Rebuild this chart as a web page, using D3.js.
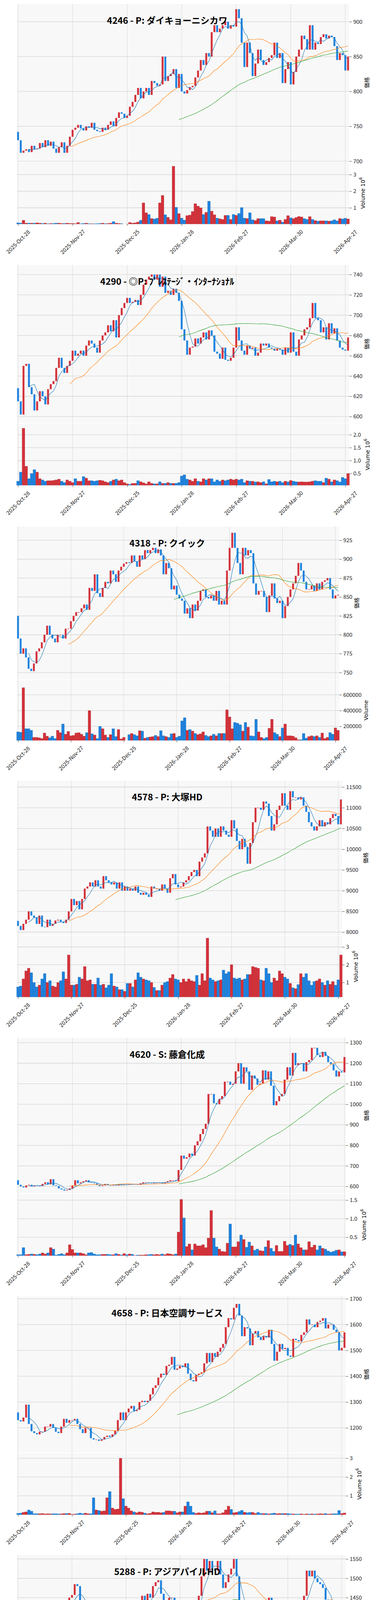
<!DOCTYPE html>
<html><head><meta charset="utf-8">
<script src="https://cdn.jsdelivr.net/npm/d3@7/dist/d3.min.js"></script>
<style>body{margin:0;background:#fff}svg{display:block}</style>
</head><body>
<svg id="c" width="960" height="6618"></svg>
<script>
// ---------- data ----------
const titles = ["4246 - P: ダイキョーニシカワ","4290 - ◎P: ﾌﾟﾚｽﾃｰｼﾞ・ｲﾝﾀｰﾅｼｮﾅﾙ","4318 - P: クイック","4578 - P: 大塚HD","4620 - S: 藤倉化成","4658 - P: 日本空調サービス","5288 - P: アジアパイルHD","5334 - P: 日本特殊陶業","5563 - P: 新日本電工","5590 - ◎G: ネットスターズ"];
const dateTickIndex = [0,20,40,60,80,100,120];
const dateTickLabels = ["2025-Oct-28","2025-Nov-27","2025-Dec-25","2026-Jan-28","2026-Feb-27","2026-Mar-30","2026-Apr-27"];
const firstOpens = [742,628,825,8270,630,1260,1238,6300,348,1295];

const closes4246 = [730,712,715,717,713,722,717,718,726,720, 730,722,728,718,712,720,727,712,722,735, 745,748,752,747,744,750,748,755,745,743, 742,748,745,752,757,750,762,770,768,762, 765,778,785,795,805,790,800,805,795,815, 812,808,810,850,815,822,825,832,805,825, 800,797,802,806,808,820,830,845,838,855, 850,885,895,885,890,895,900,890,895,893, 918,905,870,835,870,855,822,840,860,845, 838,842,848,852,870,848,855,812,832,842, 810,828,850,860,880,875,860,895,860,870, 868,878,882,876,880,878,865,845,855,852,830,850];
const volumes4246 = [.1,.08,.25,.08,.08,.08,.08,.1,.08,.06,.08,.04,.06,.06,.08,.08,.06,.06,.08,.06, .06,.05,.12,.04,.06,.08,.05,.04,.04,.05,.06,.08,.05,.06,.08,.17,.08,.06,.05,.02, .03,.12,.08,.1,.15,.25,1.3,.7,.6,.35,.33,.37,1.3,1.75,.58,.43,.28,3.5,1.03,.65, .38,.26,.53,.56,.78,1.25,1.1,1.0,.6,.73,1.4,.8,.58,.38,.34,.3,.55,.55,.3,.6, .55,.66,1.02,.38,.36,.7,.28,.24,.35,.35,.35,.22,.2,.47,.45,.22,.26,.14,.3,.53, .4,.35,.42,.48,.45,.35,.3,.47,.3,.23,.2,.22,.22,.22,.2,.22,.28,.22,.36,.33,.37,.33];

const closes4290 = [615,602,650,652,629,622,606,615,625,620, 612,627,632,635,648,658,648,643,650,655, 665,660,662,665,660,670,675,672,668,663, 675,680,683,690,684,695,678,700,707,712, 717,712,713,715,710,720,730,735,738,740, 735,740,728,738,722,724,720,726,722,714, 686,675,661,668,669,677,672,678,683,676, 685,680,664,662,657,668,656,655,658,668, 688,675,665,661,670,667,668,660,663,672, 670,672,668,667,665,667,666,661,668,663, 683,664,660,676,680,686,688,697,712,697, 695,683,688,676,692,682,687,675,668,666,665,678];
const volumes4290 = [.2,.55,2.25,.78,.3,.5,.65,.55,.3,.25, .2,.22,.22,.23,.25,.28,.2,.15,.25,.2, .15,.3,.2,.2,.38,.32,.22,.22,.2,.22, .24,.22,.18,.15,.2,.25,.28,.22,.25,.15, .1,.08,.12,.12,.22,.18,.14,.1,.18,.12, .1,.1,.18,.12,.12,.15,.12,.12,.12,.15, .4,.45,.28,.25,.2,.3,.2,.18,.3,.25, .3,.3,.18,.25,.2,.25,.22,.25,.28,.25, .28,.25,.28,.15,.22,.2,.2,.17,.18,.15, .18,.1,.27,.18,.2,.18,.2,.15,.2,.18, .23,.2,.18,.17,.18,.17,.17,.18,.2,.22, .2,.2,.15,.32,.28,.18,.25,.22,.17,.35,.3,.5];

const closes4318 = [795,775,782,770,755,752,762,778,782,790, 800,812,800,795,790,800,800,795,808,808, 818,825,830,830,835,840,833,862,858,880, 855,850,862,870,868,885,880,870,885,890, 894,896,895,905,897,890,905,900,912,908, 912,915,908,913,905,880,895,888,860,865, 853,848,845,828,835,822,840,832,845,858, 860,850,848,852,845,858,840,845,840,885, 915,935,915,895,880,915,905,912,908,868, 853,858,858,850,830,852,868,848,842,845, 822,838,850,860,868,878,895,885,870,860, 860,865,858,868,860,870,872,875,860,848,852,853];
const volumes4318 = [130000,125000,690000,170000,170000,150000,60000,60000,55000,45000, 115000,75000,55000,75000,45000,150000,120000,230000,100000,135000, 80000,85000,115000,120000,100000,75000,120000,400000,105000,90000, 45000,200000,170000,90000,60000,95000,170000,70000,160000,40000, 60000,18000,95000,110000,95000,80000,145000,140000,50000,60000, 65000,70000,85000,70000,145000,80000,70000,60000,105000,110000, 60000,75000,270000,310000,150000,160000,140000,110000,95000,105000, 130000,85000,70000,80000,100000,80000,110000,110000,110000,410000, 320000,170000,250000,240000,220000,140000,250000,190000,80000,75000, 290000,130000,60000,45000,60000,175000,290000,120000,100000,70000, 180000,230000,80000,80000,75000,55000,30000,30000,110000,50000, 70000,80000,70000,80000,60000,115000,45000,60000,120000,100000,180000,150000];

const closes4578 = [8150,8050,8200,8300,8500,8400,8350,8200,8400,8130, 8120,8300,8150,8200,8280,8300,8250,8220,8300,8500, 8800,8650,8750,8550,8800,9050,9100,9200,9100,9250, 9100,9050,9350,9250,9200,9150,9200,9050,9200,9000, 9100,9000,9050,9000,9100,8950,8900,8950,8900,8850, 9100,9050,9050,9000,9150,9050,8950,9300,9400,9150, 9080,9100,9200,9250,9350,9450,9500,9350,9700,9800, 9900,10550,10450,10300,10500,10300,10550,10450,10350,10300, 10700,10500,10200,10000,10250,10050,9650,10150,10650,11000, 11000,10950,11150,11100,10800,10450,10600,10950,11050,11350, 11050,10950,11400,11250,11250,11200,11250,11050,10900,10650, 10550,10450,10550,10700,10550,10650,10600,10750,10850,10800,10600,11200];
const volumes4578 = [.75,.8,1.2,1.65,1.8,1.55,1.0,.75,.85,1.2,1.5,1.0,1.1,.8,.75,1.0,1.1,1.6,1.2,2.55, .85,.85,.9,1.3,1.2,1.9,1.1,1.15,.9,.9,1.25,.85,.9,.7,.85,1.5,.8,.75,.6,.6, .5,.95,.95,.75,1.15,1.55,1.3,1.2,1.15,1.1,1.0,.72,.55,.55,.85,1.0,1.05,1.25,1.45,1.2, 1.15,1.0,1.2,1.05,1.2,1.1,1.05,1.4,.85,1.5,1.1,3.5,1.25,1.15,1.05,1.1,1.15,1.7,1.5,1.6, 2.0,1.25,1.2,1.25,1.15,1.2,1.45,1.45,1.9,1.85,1.8,1.15,1.1,1.8,1.5,1.0,1.25,1.1,1.65,1.5, 1.3,1.2,.95,.7,.65,.88,1.5,1.3,1.5,1.1,.85,1.05,1.1,1.2,1.0,.85,1.1,.9,1.05,.85,1.15,2.55];

const closes4620 = [608,600,595,605,608,600,605,603,602,612, 620,610,635,605,602,590,585,580,583,590, 605,630,615,620,625,630,620,618,615,607, 602,605,612,608,605,607,605,610,607,610, 608,612,610,612,608,615,620,620,618,615, 618,618,620,615,620,625,630,630,625, 680,750,735,742,760,750,800,820,855,880,905, 1050,1050,1005,1000,1025,1040,1110,1110,1095,1100, 1160,1200,1100,1180,1160,1070,1140,1125,1095,1100, 1165,1120,1160,1090,995,1015,1040,1050,1120,1180, 1140,1250,1190,1200,1200,1160,1205,1215,1275,1275, 1240,1230,1255,1235,1205,1195,1165,1135,1160,1155,1230];
const volumes4620 = [.03,.03,.22,.03,.04,.05,.04,.03,.05,.08,.05,.08,.22,.18,.02,.04,.06,.03,.08,.3, .17,.08,.08,.08,.06,.03,.08,.09,.05,.03,.03,.04,.04,.04,.03,.03,.06,.04,.02,.06, .03,.05,.04,.01,.02,.02,.02,.03,.03,.04,.03,.04,.03,.05,.03,.06,.05,.03,.05,.64, 1.52,1.02,.25,.32,.16,.32,.27,.27,.3,.22,.48,1.22,.48,.24,.18,.12,.11,.34,.86,.24, .24,.38,.56,.44,.23,.37,.27,.15,.18,.14,.13,.24,.41,.2,.12,.28,.12,.12,.39,.28, .31,.28,.56,.32,.22,.16,.16,.38,.23,.29,.16,.27,.2,.18,.13,.1,.12,.15,.16,.11,.11,.27];

const closes4658 = [1230,1225,1240,1290,1215,1187,1180,1175,1185,1185, 1205,1205,1215,1200,1185,1180,1205,1235,1220,1230, 1230,1235,1215,1195,1180,1200,1200,1160,1155,1155, 1150,1155,1165,1170,1165,1175,1190,1230,1260,1230, 1260,1275,1285,1265,1270,1300,1305,1300,1305,1330, 1355,1365,1395,1410,1405,1440,1445,1475,1425,1430, 1440,1435,1450,1410,1385,1380,1405,1410,1415,1450, 1490,1455,1490,1475,1495,1510,1525,1590,1625,1620, 1665,1680,1635,1555,1590,1585,1520,1565,1575,1550, 1540,1555,1550,1580,1525,1460,1495,1525,1505,1510, 1480,1475,1545,1540,1535,1560,1570,1620,1600,1600, 1590,1610,1615,1625,1585,1600,1600,1580,1570,1500,1510,1570];
const volumes4658 = [.07,.08,.12,.15,.25,.18,.05,.05,.05,.06,.04,.05,.04,.05,.05,.04,.04,.06,.06,.07, .02,.03,.05,.08,.05,.08,.05,.05,.9,.25,.22,.18,.2,.9,1.23,.35,.28,.3,3.0,.85, .45,.35,.2,.15,.1,.15,.13,.08,.05,.07,.15,.12,.13,.1,.12,.2,.2,.18,.18,.1, .15,.15,.45,.68,.45,.12,.07,.1,.08,.1,.18,.18,.1,.2,.05,.05,.1,.25,.45,.28, .1,.12,.17,.23,.13,.1,.12,.12,.06,.12,.06,.06,.06,.04,.06,.08,.05,.06,.06,.06, .06,.04,.04,.03,.03,.04,.02,.04,.03,.04,.03,.04,.05,.04,.06,.03,.04,.05,.05,.22,.06,.09];

const closes5288 = [1190,1178,1195,1193,1205,1195,1220,1215,1215,1205, 1360,1335,1320,1350,1325,1340,1410,1430,1400,1450, 1457,1485,1480,1430,1418,1400,1418,1435,1430,1410, 1400,1415,1420,1390,1385,1400,1415,1405,1410,1400, 1405,1395,1410,1385,1395,1425,1455,1410,1460,1450, 1480,1490,1495,1460,1440,1425,1450,1450,1420,1405, 1405,1380,1385,1370,1385,1435,1440,1455,1505,1550, 1520,1545,1525,1520,1545,1510,1475,1490,1510,1525, 1550,1505,1425,1345,1390,1415,1365,1400,1395,1370, 1375,1385,1400,1450,1400,1350,1380,1410,1400,1405, 1380,1380,1430,1410,1405,1420,1455,1520,1505,1520, 1500,1490,1485,1475,1445,1440,1425,1380,1365,1360,1365,1420];
const volumes5288 = [.1,.08,.3,.09,.1,.17,.12,.06,.2,.42,1.4,.33,.22,.21,.22,.21,.39,.32,.22,.18, .1,.21,.15,.45,.08,.11,.13,.1,.13,.18,.14,.11,.16,.3,.19,.09,.18,.13,.12,.11, .08,.2,.14,.17,.2,.22,.19,.23,.15,.12,.13,.2,.13,.12,.09,.17,.17,.17,.19,.15, .14,.18,.1,.23,.24,.16,.24,.55,.75,.41,.14,.11,.11,.15,.19,.31,.22,.11,.13,.2, .33,.38,.21,.29,.25,.12,.13,.16,.15,.13,.15,.19,.13,.2,.2,.19,.12,.18,.22,.19, .2,.22,.14,.12,.03,.08,.2,.12,.15,.1,.11,.1,.08,.08,.06,.1,.15,.16,.16,.1,.09,.12];

const closes5334 = [6250,6250,6260,6300,6580,6500,6570,6520,6420,6480, 6520,6620,6510,6520,6420,6350,6420,6480,6570,6590, 6630,6650,6520,6560,6580,6600,6430,6560,6630,6690, 6620,6700,6700,6580,6640,6600,6720,6840,6820,6750, 6780,6770,6790,6850,6850,6870,6960,6800,6620,6750, 6800,6820,6830,6960,6960,6960,7010,7030,6890,6920, 6880,6640,6660,6380,6540,6470,6460,6520,6650,6660, 6650,7010,7060,7300,7620,7930,7680,7720,7770,7740, 7800,7750,7500,7270,7360,7350,7300,7600,7800,7600, 7650,7440,7460,7600,7170,6970,7340,7690,7600,7620, 7320,7220,7510,7480,7510,7520,7500,7900,8000,8250, 8150,8470,8200,8280,8350,8420,8760,8550,8400,8350,8220,8560];
const volumes5334 = [.52,.4,.57,.62,1.3,.84,.83,.75,.9,.57,.82,.58,.68,.57,.63,.53,.55,.67,.57,.62, .5,.53,.55,.47,.77,.67,.8,.62,.66,.79,.49,.62,.56,.62,.73,.66,1.03,.66,.71,.52, .3,.48,.42,.35,.47,.6,.73,.9,1.3,1.25,.94,.77,.86,1.03,.7,.55,.72,.7,1.1,.8, .88,1.03,.8,1.57,1.12,.85,.79,.76,.78,.87,.68,1.77,1.35,1.42,1.45,2.07,1.1,.99,.88,1.0, .92,.88,.72,.86,.79,.63,.97,1.3,1.05,.67,.73,.74,.51,.63,1.1,.88,1.06,.87,.7,.64, .71,.57,.55,.71,.33,.33,.43,1.34,.76,.92,.97,1.56,1.06,.81,.92,.78,1.06,1.05,1.05,.5,.56,.87];

const closes5563 = [335,333,335,330,327,322,298,305,314,315, 322,320,322,322,316,319,322,324,318,322, 323,328,330,324,326,328,327,326,320,324, 318,325,327,320,322,322,322,333,334,337, 339,343,362,358,350,356,372,366,366,380, 388,392,387,386,388,382,380,384,386,390, 386,381,384,378,387,404,406,398,404,408, 407,408,425,416,428,420,426,443,443,447, 470,459,443,412,440,423,401,424,431,418, 413,433,437,456,430,400,418,426,423,421, 408,411,427,420,429,437,440,451,443,440, 436,444,445,450,441,448,444,428,425,423,422,436];
const volumes5563 = [.5,.38,.5,.38,.52,.55,1.45,.6,.6,.38,.45,.18,.22,.23,.4,.37,.35,.35,.52,.2, .17,.3,.38,.28,.27,.3,.18,.44,.5,.3,.26,.37,.32,.44,.2,.18,.37,.9,.4,.34, .44,.4,.78,.57,.65,.4,1.18,.6,.45,1.37,1.56,.75,.74,.55,.86,.72,.67,.47,2.27,.86, .83,.69,.93,.76,.9,1.26,1.4,.68,.75,.62,1.96,1.45,1.43,1.68,.74,.64,1.14,1.63,1.58,1.0, 1.27,1.18,1.33,1.91,1.4,.68,1.36,1.4,.89,.69,.58,1.84,1.38,1.42,1.7,1.64,.99,.49,.55,.88, .98,.55,.6,.66,.45,1.06,.69,.97,.72,.64,.46,.61,.78,.49,.49,.53,.5,.65,.71,.47,.67,.74];

const closes5590 = [1240,1240,1230,1265,1245,1235,1250,1265,1285,1295, 1245,1160,1165,1030,1010,950,960,905,915,945, 900,980,920,910,900,935,920,910,912,905, 895,905,905,810,840,860,900,915,970,930, 1000,1045,1055,1010,975,995,990,995,1000,1005, 980,1020,1000,990,975,945,945,935,850,870, 860,860,895,870,850,850,850,825,855,895, 845,830,780,795,820,860,790,785,790,810, 830,790,790,770,800,820,795,805,790,780, 795,790,785,770,760,720,745,760,735,780, 760,770,810,800,795,805,815,860,805,810, 820,825,850,845,880,870,855,835,810,815,820,855];
const volumes5590 = [130,156,143,132,132,146,120,150,131,166, 231,183,193,263,223,223,235,252,218,192, 175,235,164,141,137,266,129,143,156,161, 177,162,171,384,179,179,206,164,192,238, 210,220,217,197,156,141,139,118,114,145, 151,141,122,120,122,134,126,118,213,157, 145,168,177,182,189,161,153,151,203,241, 298,295,316,181,161,187,174,147,164,179, 149,213,172,158,179,161,158,141,151,149, 172,183,340,168,149,166,181,208,167,181, 193,162,171,156,175,131,183,165,189,185, 186,156,156,214,263,262,263,262,262,263,262,262].map(v=>v*1000);

const priceTicks = [[700,750,800,850,900],[600,620,640,660,680,700,720,740],[750,775,800,825,850,875,900,925],[8000,8500,9000,9500,10000,10500,11000,11500],[600,700,800,900,1000,1100,1200,1300],[1200,1300,1400,1500,1600,1700],[1200,1250,1300,1350,1400,1450,1500,1550],[6500,7000,7500,8000,8500],[300,320,340,360,380,400,420,440,460],[800,900,1000,1100,1200,1300]];
const volumeTicks = [[1e6,2e6,3e6],[5e5,1e6,1.5e6,2e6],[2e5,4e5,6e5],[1e6,2e6,3e6],[5e5,1e6,1.5e6],[1e6,2e6,3e6],[5e5,1e6,1.5e6],[5e5,1e6,1.5e6,2e6],[5e5,1e6,1.5e6,2e6,2.5e6],[2e5,4e5,6e5]];
const volumeScaled = [true,true,false,true,true,true,true,true,true,false];
const maWindows = [5,20,60];
const maColors = ["#1f77b4","#ff7f0e","#2ca02c"];

const allCloses=[closes4246,closes4290,closes4318,closes4578,closes4620,closes4658,closes5288,closes5334,closes5563,closes5590];
const allVols=[volumes4246,volumes4290,volumes4318,volumes4578,volumes4620,volumes4658,volumes5288,volumes5334,volumes5563,volumes5590].map((a,i)=>volumeScaled[i]?a.map(v=>v*1e6):a);

// ---------- layout (measured units, converted below) ----------
const L = [
 {base:0,h:660,top:8,pb:327,vb:454,right:487,p:[[900,44],[700,326.7]],v:[[3e6,354],[1e6,421.3]]},
 {base:662,h:662,top:13,pb:332,vb:458,right:487,p:[[740,32.3],[600,319.3]],v:[[2e6,356],[5e5,434.3]]},
 {base:1324,h:662,top:19,pb:328,vb:451,right:473,p:[[925,46.7],[750,314]],v:[[6e5,359],[2e5,422.7]]},
 {base:1986,h:662,top:10,pb:322,vb:447,right:477,p:[[11500,22.7],[8000,316]],v:[[3e6,346],[1e6,417.7]]},
 {base:2648,h:662,top:7,pb:321,vb:447,right:482,p:[[1300,16.7],[600,307.3]],v:[[1.5e6,335],[5e5,410]]},
 {base:3310,h:662,top:7,pb:322,vb:448,right:482,p:[[1700,11.7],[1200,272.7]],v:[[3e6,334],[1e6,410]]},
 {base:3972,h:662,top:7,pb:325,vb:448,right:482,p:[[1550,15],[1200,288.7]],v:[[1.5e6,326],[5e5,408.3]]},
 {base:4634,h:662,top:8,pb:323,vb:449,right:482,p:[[8500,49],[6500,280]],v:[[2e6,344.3],[5e5,427.3]]},
 {base:5296,h:662,top:10,pb:329,vb:454,right:487,p:[[460,30.7],[300,313.7]],v:[[2.5e6,330],[5e5,432]]},
 {base:5950,h:668,top:20.7,pb:328,vb:450,right:473,p:[[1300,41.7],[800,281]],v:[[6e5,332.7],[2e5,412.3]]}
];
const SX=3*960/1568;
const UP="#d3313a", DOWN="#1e82de", LEFT=24*SX, FONT="'Noto Sans CJK JP','Noto Sans',sans-serif";

const svg=d3.select("#c");
L.forEach((lay0,k)=>{
  const SY=3*lay0.h/1568;
  const lay={top:lay0.top*SY,pb:lay0.pb*SY,vb:lay0.vb*SY,right:lay0.right*SX,
    p:lay0.p.map(a=>[a[0],a[1]*SY]),v:lay0.v.map(a=>[a[0],a[1]*SY])};
  const g=svg.append("g").attr("transform",`translate(0,${lay0.base})`);
  const closes=allCloses[k], vols=allVols[k], n=closes.length;
  const data=closes.map((c,i)=>({i,c,o:i?closes[i-1]:firstOpens[k],v:vols[i]}));
  const x=d3.scaleLinear().domain([-0.3,n-0.5]).range([LEFT,lay.right]);
  const step=x(1)-x(0);
  const y=d3.scaleLinear().domain([lay.p[0][0],lay.p[1][0]]).range([lay.p[0][1],lay.p[1][1]]);
  const yv=d3.scaleLinear().domain([lay.v[0][0],lay.v[1][0]]).range([lay.v[0][1],lay.v[1][1]]);
  const vt=lay.pb+2;
  g.append("rect").attr("x",LEFT).attr("y",lay.top).attr("width",lay.right-LEFT).attr("height",lay.pb-lay.top).attr("fill","#f8f8f8");
  g.append("rect").attr("x",LEFT).attr("y",vt).attr("width",lay.right-LEFT).attr("height",lay.vb-vt).attr("fill","#f8f8f8");
  dateTickIndex.forEach(t=>{
    g.append("line").attr("x1",x(t)).attr("x2",x(t)).attr("y1",lay.top).attr("y2",lay.vb).attr("stroke","#d8d8d8").attr("stroke-width",1);
  });
  priceTicks[k].forEach(t=>{
    g.append("line").attr("x1",LEFT).attr("x2",lay.right).attr("y1",y(t)).attr("y2",y(t)).attr("stroke","#d4d4d4").attr("stroke-width",1.3);
  });
  volumeTicks[k].forEach(t=>{
    g.append("line").attr("x1",LEFT).attr("x2",lay.right).attr("y1",yv(t)).attr("y2",yv(t)).attr("stroke","#d4d4d4").attr("stroke-width",1.3);
  });
  g.selectAll(".vb").data(data).join("rect")
    .attr("x",d=>x(d.i)-step/2).attr("width",step)
    .attr("y",d=>Math.max(vt,Math.min(lay.vb,yv(d.v)))).attr("height",d=>Math.max(0,lay.vb-Math.max(vt,yv(d.v))))
    .attr("fill",d=>d.c>=d.o?UP:DOWN).attr("stroke",d=>d.c>=d.o?"#9c2a2a":"#14609f").attr("stroke-width",0.4);
  const cw=step*0.7;
  g.selectAll(".cd").data(data).join("rect")
    .attr("x",d=>x(d.i)-cw/2).attr("width",cw)
    .attr("y",d=>y(Math.max(d.o,d.c))).attr("height",d=>Math.max(1.2,Math.abs(y(d.o)-y(d.c))))
    .attr("fill",d=>d.c>=d.o?UP:DOWN);
  maWindows.forEach((w,j)=>{
    const pts=[];
    for(let i=w-1;i<n;i++){pts.push([i,d3.mean(closes.slice(i-w+1,i+1))]);}
    g.append("path").attr("d",d3.line().x(p=>x(p[0])).y(p=>y(p[1]))(pts)).attr("fill","none").attr("stroke",maColors[j]).attr("stroke-width",1.1);
  });
  const ax=g.append("g").attr("transform",`translate(${lay.right},0)`);
  const tickStyle=s=>s.call(a=>a.select(".domain").remove()).selectAll("text").attr("font-family",FONT).attr("font-size",14).attr("fill","#222");
  const pa=ax.append("g").call(d3.axisRight(y).tickValues(priceTicks[k]).tickSize(6).tickPadding(4).tickFormat(d3.format("d")));
  pa.call(tickStyle);
  const vf=volumeScaled[k]?(v=>{const m=v/1e6;return volumeTicks[k].some(t=>t%1e6)?m.toFixed(1):String(m);}):d3.format("d");
  const va=ax.append("g").call(d3.axisRight(yv).tickValues(volumeTicks[k]).tickSize(6).tickPadding(4).tickFormat(vf));
  va.call(tickStyle);
  ax.selectAll("line").attr("stroke","#444");
  const pw=pa.node().getBBox().width, vw=va.node().getBBox().width;
  g.append("text").attr("transform",`translate(${lay.right+pw+16},${(lay.top+lay.pb)/2}) rotate(-90)`).attr("text-anchor","middle")
    .attr("font-family",FONT).attr("font-size",14).text("価格");
  const vl=g.append("text").attr("transform",`translate(${lay.right+vw+(volumeScaled[k]?22:16)},${(vt+lay.vb)/2}) rotate(-90)`).attr("text-anchor","middle")
    .attr("font-family","'DejaVu Sans',sans-serif").attr("font-size",14).text("Volume");
  if(volumeScaled[k]){vl.append("tspan").text("  10");vl.append("tspan").attr("dy",-7).attr("font-size",10).text("6");}
  // x axis (labels centered on ticks, rotated 45°)
  g.append("g").attr("transform",`translate(0,${lay.vb})`).call(d3.axisBottom(x).tickValues(dateTickIndex).tickSize(5).tickFormat((d,i)=>dateTickLabels[i]))
    .call(a=>a.select(".domain").remove())
    .call(a=>a.selectAll("line").attr("stroke","#444"))
    .selectAll("text").attr("font-family",FONT).attr("font-size",14).attr("fill","#222")
    .attr("text-anchor","middle").attr("dy","0.35em").attr("y",0).attr("transform","translate(0,46) rotate(-45)");
  g.append("text").attr("x",428).attr("y",(lay0.top+40)*SY).attr("text-anchor","middle")
    .attr("font-family",FONT).attr("font-weight","bold").attr("font-size",23).text(titles[k]);
});
</script>
</body></html>
